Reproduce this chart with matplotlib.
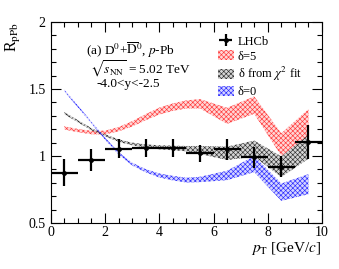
import matplotlib
matplotlib.use("Agg")
import matplotlib.pyplot as plt
from matplotlib.patches import Patch
from matplotlib.ticker import MultipleLocator
from matplotlib.colors import to_rgba
import numpy as np

plt.rcParams['font.family'] = ['Liberation Serif', 'DejaVu Serif']
plt.rcParams['mathtext.fontset'] = 'stix'
plt.rcParams['hatch.linewidth'] = 0.45

# LHCb data
pt_centers = [0.5, 1.5, 2.5, 3.5, 4.5, 5.5, 6.5, 7.5, 8.5, 9.5]
pt_halfwidth = [0.5] * 10
rppb = [0.875, 0.97, 1.055, 1.06, 1.06, 1.02, 1.05, 0.99, 0.92, 1.105]
rppb_err = [0.10, 0.08, 0.07, 0.07, 0.07, 0.065, 0.08, 0.08, 0.08, 0.13]

# model bands
pt_model = [0.5, 1.0, 1.5, 2.0, 2.5, 3.0, 3.5, 4.0, 4.5, 5.0, 5.5, 6.5, 7.5, 8.5, 9.5]
d5_center = [1.21, 1.19, 1.175, 1.175, 1.20, 1.24, 1.29, 1.335, 1.365, 1.385, 1.39, 1.30, 1.38, 1.085, 1.25]
d5_half = [0.012, 0.012, 0.013, 0.014, 0.016, 0.02, 0.023, 0.026, 0.028, 0.03, 0.035, 0.06, 0.065, 0.085, 0.10]
fit_center = [1.32, 1.26, 1.20, 1.155, 1.115, 1.09, 1.075, 1.065, 1.06, 1.055, 1.045, 1.02, 1.055, 0.92, 1.07]
fit_half = [0.008, 0.008, 0.008, 0.008, 0.009, 0.01, 0.012, 0.015, 0.017, 0.02, 0.03, 0.05, 0.06, 0.077, 0.09]
d0_center = [1.49, 1.37, 1.25, 1.13, 1.02, 0.94, 0.89, 0.855, 0.835, 0.82, 0.825, 0.855, 0.94, 0.73, 0.79]
d0_half = [0.007, 0.007, 0.007, 0.008, 0.009, 0.01, 0.012, 0.015, 0.017, 0.018, 0.02, 0.035, 0.06, 0.065, 0.075]

colors = {'d5': '#ff3a3a', 'fit': '#303030', 'd0': '#2a2aff'}
HATCH = 'xxxxxxx'
FILL_ALPHA = 0.2

fig = plt.figure(figsize=(3.39, 2.69), dpi=100)
ax = fig.add_axes([0.1496, 0.171, 0.8004, 0.747])

def band(center, half, color):
    c = np.array(center); h = np.array(half)
    ax.fill_between(pt_model, c - h, c + h, facecolor=to_rgba(color, FILL_ALPHA),
                    edgecolor=color, hatch=HATCH, linewidth=0)

band(d5_center, d5_half, colors['d5'])
band(fit_center, fit_half, colors['fit'])
band(d0_center, d0_half, colors['d0'])

eb = ax.errorbar(pt_centers, rppb, xerr=pt_halfwidth, yerr=rppb_err, fmt='o',
                 color='black', ms=2.5, elinewidth=1.6, capsize=0, zorder=5)

ax.set_xlim(0, 10)
ax.set_ylim(0.5, 2)
ax.xaxis.set_major_locator(MultipleLocator(2))
ax.xaxis.set_minor_locator(MultipleLocator(0.5))
ax.yaxis.set_major_locator(MultipleLocator(0.5))
ax.yaxis.set_minor_locator(MultipleLocator(0.1))
ax.tick_params(which='both', direction='in', top=True, right=True, labelsize=10)
ax.tick_params(which='major', length=7, width=0.8)
ax.tick_params(which='minor', length=3.5, width=0.8)
ax.set_yticks([0.5, 1, 1.5, 2])
ax.set_yticklabels(['0.5', '1', '1.5', '2'])
ax.tick_params(axis='x', pad=2)

ax.set_xlabel(r'$p_{\rm T}$ [GeV/$c$]', fontsize=11, loc='right', labelpad=1)
ax.set_ylabel(r'R$_{\rm pPb}$', fontsize=11.5, loc='top', labelpad=4)

ax.text(0.13, 0.86, r'(a) D$^0$+$\overline{\rm D}^0$, $p$-Pb', transform=ax.transAxes,
        fontsize=9.5, ha='left', va='center')
ax.text(0.145, 0.77, r'$\sqrt{s_{\rm NN}}$ = 5.02 TeV', transform=ax.transAxes,
        fontsize=9.5, ha='left', va='center')
ax.text(0.17, 0.69, '-4.0<y<-2.5', transform=ax.transAxes,
        fontsize=9.5, ha='left', va='center')

handles = [eb] + [Patch(facecolor=to_rgba(colors[k], FILL_ALPHA), edgecolor=colors[k],
                        hatch=HATCH, linewidth=0) for k in ('d5', 'fit', 'd0')]
labels = ['LHCb', 'δ=5', r'δ from $\chi^2$ fit', 'δ=0']
ax.legend(handles, labels, loc='upper left', bbox_to_anchor=(0.615, 0.935), frameon=False,
          fontsize=9, handlelength=1.3, handleheight=0.9, handletextpad=0.3,
          labelspacing=0.2, borderpad=0, borderaxespad=0)

fig.savefig('out.png', dpi=100)
